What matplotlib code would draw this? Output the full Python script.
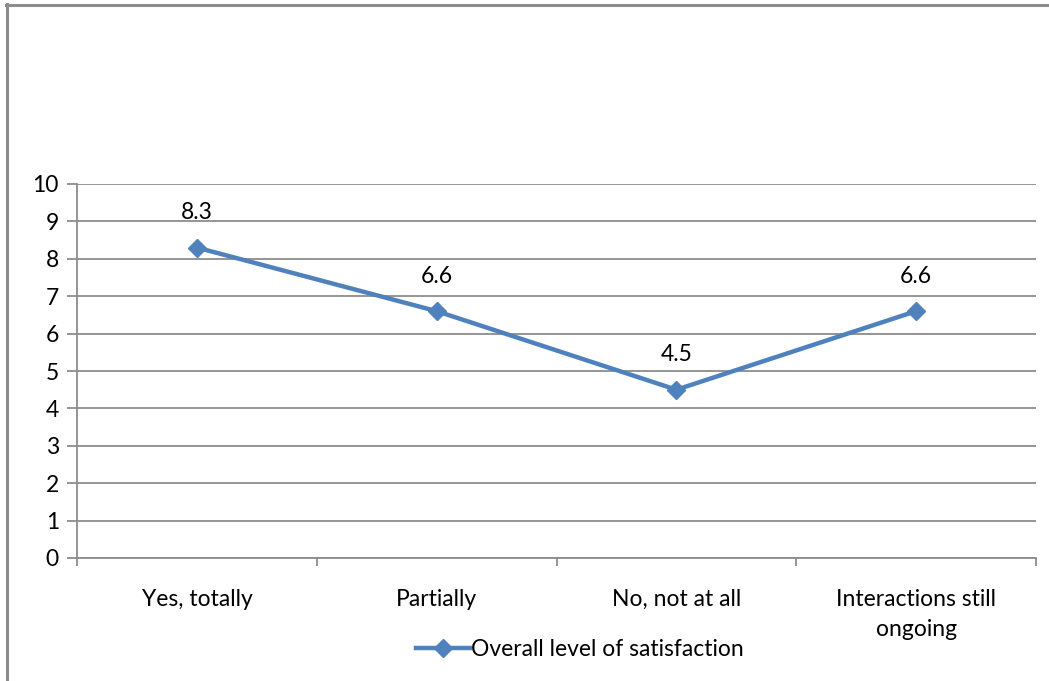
import matplotlib
matplotlib.use("Agg")
import matplotlib.pyplot as plt
from matplotlib.lines import Line2D

categories = ["Yes, totally", "Partially", "No, not at all", "Interactions still\nongoing"]
satisfaction = [8.3, 6.6, 4.5, 6.6]
series_name = "Overall level of satisfaction"
y_ticks = list(range(0, 11))

plt.rcParams["font.family"] = ["Lato", "DejaVu Sans"]

W, H, DPI = 1049, 681, 100
fig = plt.figure(figsize=(W / DPI, H / DPI), dpi=DPI)

# outer frame lines (left and top)
fig.add_artist(Line2D([6.5 / W, 6.5 / W], [0, 1 - 4 / H], color="#8c8c8c", lw=2.2))
fig.add_artist(Line2D([6 / W, 1], [1 - 4.5 / H, 1 - 4.5 / H], color="#8c8c8c", lw=2.2))

left, right, top, bottom = 77, 1036, 184, 558
ax = fig.add_axes([left / W, 1 - bottom / H, (right - left) / W, (bottom - top) / H])

n = len(categories)
x = [i + 0.5 for i in range(n)]
ax.set_xlim(0, n)
ax.set_ylim(0, 10)

fs = 16.5
grid_c = "#8c8c8c"
ax.set_yticks(y_ticks)
ax.yaxis.grid(True, color=grid_c, lw=1.3)
ax.set_axisbelow(True)
for s in ["top", "right"]:
    ax.spines[s].set_visible(False)
for s in ["left", "bottom"]:
    ax.spines[s].set_color(grid_c)
    ax.spines[s].set_linewidth(1.3)

ax.tick_params(axis="y", length=7, width=1.3, color=grid_c, labelsize=fs, pad=6)
ax.set_xticks(range(n + 1))
ax.set_xticklabels([])
ax.tick_params(axis="x", length=6, width=1.3, color=grid_c)

# category labels, one text per wrapped line so each line keeps its own baseline
for xi, lab in zip(x, categories):
    for k, line in enumerate(lab.split("\n")):
        ax.annotate(line, (xi, 0), xytext=(0, -48 - 30 * k), textcoords="offset pixels",
                    ha="center", va="baseline", fontsize=fs)

color = "#4F81BD"
ax.plot(x, satisfaction, color=color, lw=3.2, marker="D", markersize=9.5,
        markeredgecolor=color, solid_capstyle="round", clip_on=False,
        label=series_name)

for xi, v in zip(x, satisfaction):
    ax.annotate(f"{v:.1f}", (xi, v), xytext=(0, 35), textcoords="offset pixels",
                ha="center", va="center", fontsize=fs)

handle = Line2D([], [], color=color, lw=3.2, marker="D", markersize=9.5)
fig.legend([handle], [series_name], loc="center", bbox_to_anchor=(580 / W, 1 - 650 / H),
           frameon=False, fontsize=fs, handlelength=2.35, handletextpad=0.08,
           borderpad=0)

fig.savefig("out.png", dpi=DPI)
